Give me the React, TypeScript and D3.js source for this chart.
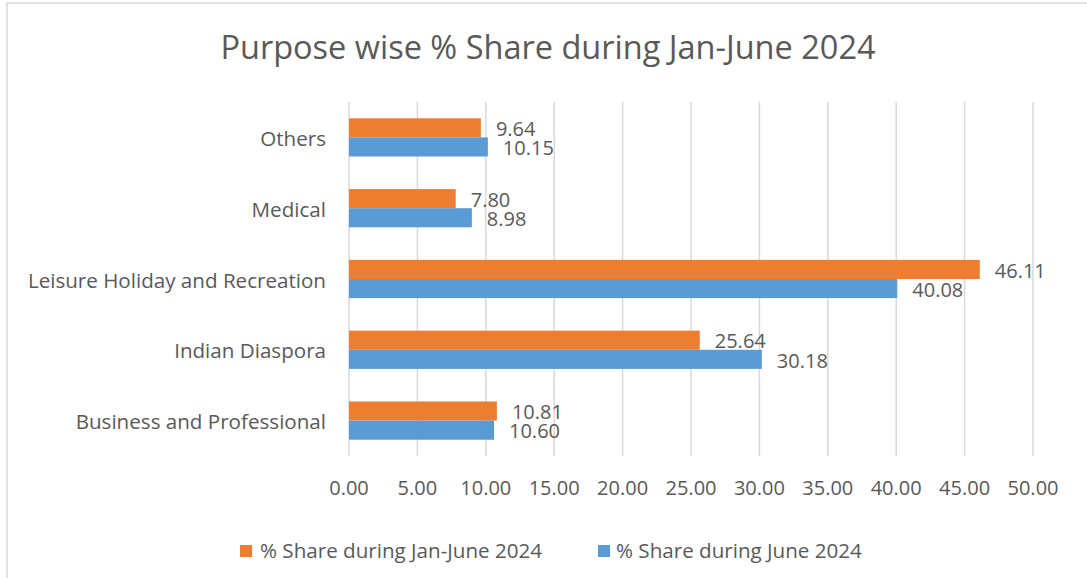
import * as d3 from "d3";

const categories = ["Business and Professional", "Indian Diaspora", "Leisure Holiday and Recreation", "Medical", "Others"];
const janJune = [10.81, 25.64, 46.11, 7.8, 9.64];
const june = [10.6, 30.18, 40.08, 8.98, 10.15];
const seriesNames = ["% Share during Jan-June 2024", "% Share during June 2024"];
const ticks = [0, 5, 10, 15, 20, 25, 30, 35, 40, 45, 50];

const colors = ["#ED7D31", "#5B9BD5"];
const textColor = "#595959";
const font = "'Open Sans', sans-serif";

export default function App() {
  const width = 1087;
  const height = 578;
  const left = 349;
  const right = 1033;
  const top = 102;
  const bottom = 456;

  const x = d3.scaleLinear().domain([0, 50]).range([left, right]);
  // first category at the bottom, as Excel draws it
  const y = d3.scaleBand().domain(categories).range([bottom, top]).paddingInner(0.46).paddingOuter(0.23);
  const inner = d3.scaleBand().domain(["a", "b"]).range([0, y.bandwidth()]);

  const series = [janJune, june];

  return (
    <svg width={width} height={height} style={{ position: "absolute", left: 0, top: 0, background: "#fff" }}>
      <rect x={7} y={3} width={width} height={height} fill="#fff" stroke="#d9d9d9" strokeWidth={1.5} />
      <text x={548} y={59} textAnchor="middle" fontFamily={font} fontSize={32.5} fill={textColor}>
        Purpose wise % Share during Jan-June 2024
      </text>

      {ticks.map((t) => (
        <g key={t}>
          <line x1={x(t)} x2={x(t)} y1={top} y2={bottom} stroke="#d9d9d9" strokeWidth={1.5} />
          <text x={x(t)} y={495} textAnchor="middle" fontFamily={font} fontSize={20} fill={textColor}>
            {t.toFixed(2)}
          </text>
        </g>
      ))}

      {categories.map((c) => (
        <text key={c} x={326} y={(y(c) ?? 0) + y.bandwidth() / 2 + 8.5} textAnchor="end" fontFamily={font} fontSize={20.6} fill={textColor}>
          {c}
        </text>
      ))}

      {series.map((vals, si) =>
        categories.map((c, i) => {
          const by = (y(c) ?? 0) + (inner(si === 0 ? "a" : "b") ?? 0);
          return (
            <g key={c + si}>
              <rect x={x(0)} y={by} width={x(vals[i]) - x(0)} height={inner.bandwidth()} fill={colors[si]} />
              <text x={x(vals[i]) + 15} y={by + inner.bandwidth() / 2 + 8.2} fontFamily={font} fontSize={20} fill={textColor}>
                {vals[i].toFixed(2)}
              </text>
            </g>
          );
        })
      )}

      <g>
        <rect x={240} y={545} width={12} height={12} fill={colors[0]} />
        <text x={260} y={558} fontFamily={font} fontSize={20.6} fill={textColor}>{seriesNames[0]}</text>
        <rect x={598} y={545} width={12} height={12} fill={colors[1]} />
        <text x={616} y={558} fontFamily={font} fontSize={20.6} fill={textColor}>{seriesNames[1]}</text>
      </g>
    </svg>
  );
}
